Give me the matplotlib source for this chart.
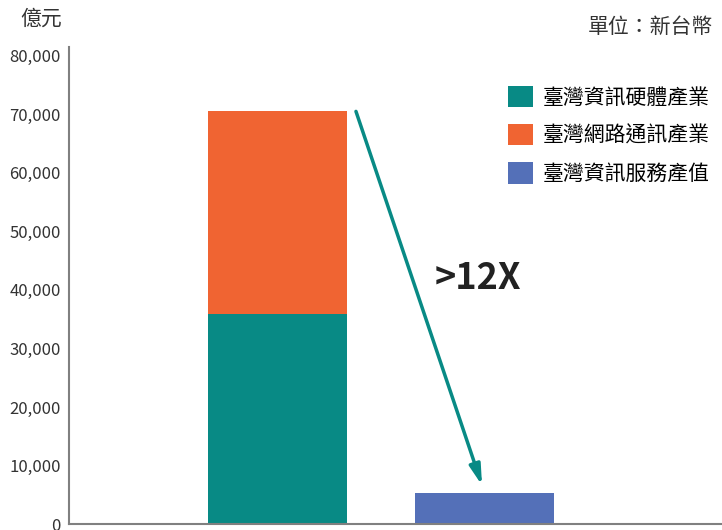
import matplotlib
matplotlib.use("Agg")
import matplotlib.pyplot as plt
from matplotlib.patches import Patch

plt.rcParams['font.family'] = ['Noto Sans CJK TC', 'DejaVu Sans']

# 資料 (億元)
positions = [0, 1]
hardware = [35900, 0]
network = [34700, 0]
service = [0, 5300]
labels = ['臺灣資訊硬體產業', '臺灣網路通訊產業', '臺灣資訊服務產值']
colors = ['#088A85', '#F06432', '#5470B8']
yticks = [0, 10000, 20000, 30000, 40000, 50000, 60000, 70000, 80000]

fig = plt.figure(figsize=(7.22, 5.30), dpi=100)
ax = fig.add_axes([0.0956, 0.0113, 0.9044, 0.9]) 

w = 0.67
ax.bar(positions[0], hardware[0], width=w, color=colors[0])
ax.bar(positions[0], network[0], width=w, bottom=hardware[0], color=colors[1])
ax.bar(positions[1], service[1], width=w, color=colors[2])

ax.set_xlim(-1.007, 2.147)
ax.set_ylim(0, 81500)
ax.set_yticks(yticks)
ax.set_yticklabels([f'{v:,}' for v in yticks], fontsize=12, color='#333333')
ax.set_xticks([])
ax.tick_params(axis='y', length=0, pad=6)

for s in ['top', 'right']:
    ax.spines[s].set_visible(False)
for s in ['left', 'bottom']:
    ax.spines[s].set_color('#808080')
    ax.spines[s].set_linewidth(1.5)

total = hardware[0] + network[0]
ax.annotate('', xy=(0.988, service[1] + 1300), xytext=(0.379, total - 100),
            arrowprops=dict(arrowstyle='-|>,head_width=0.33,head_length=1.2',
                            color=colors[0], lw=2.5, shrinkA=0, shrinkB=0))
ax.text(0.97, 41900, '>12X', fontsize=26, fontweight='bold', color='#222222',
        ha='center', va='center')

handles = [Patch(facecolor=c) for c in colors]
ax.legend(handles, labels, loc='upper right', bbox_to_anchor=(1.0, 0.945),
          frameon=False, fontsize=15, handlelength=1.2, handleheight=1.2,
          handletextpad=0.45, labelspacing=0.75, borderaxespad=0.2)

fig.text(20 / 722, 1 - 19 / 530, '億元', fontsize=15, color='#333333',
         ha='left', va='center')
fig.text(713 / 722, 1 - 27 / 530, '單位：新台幣', fontsize=15, color='#333333',
         ha='right', va='center')

fig.savefig('out.png', dpi=100)
